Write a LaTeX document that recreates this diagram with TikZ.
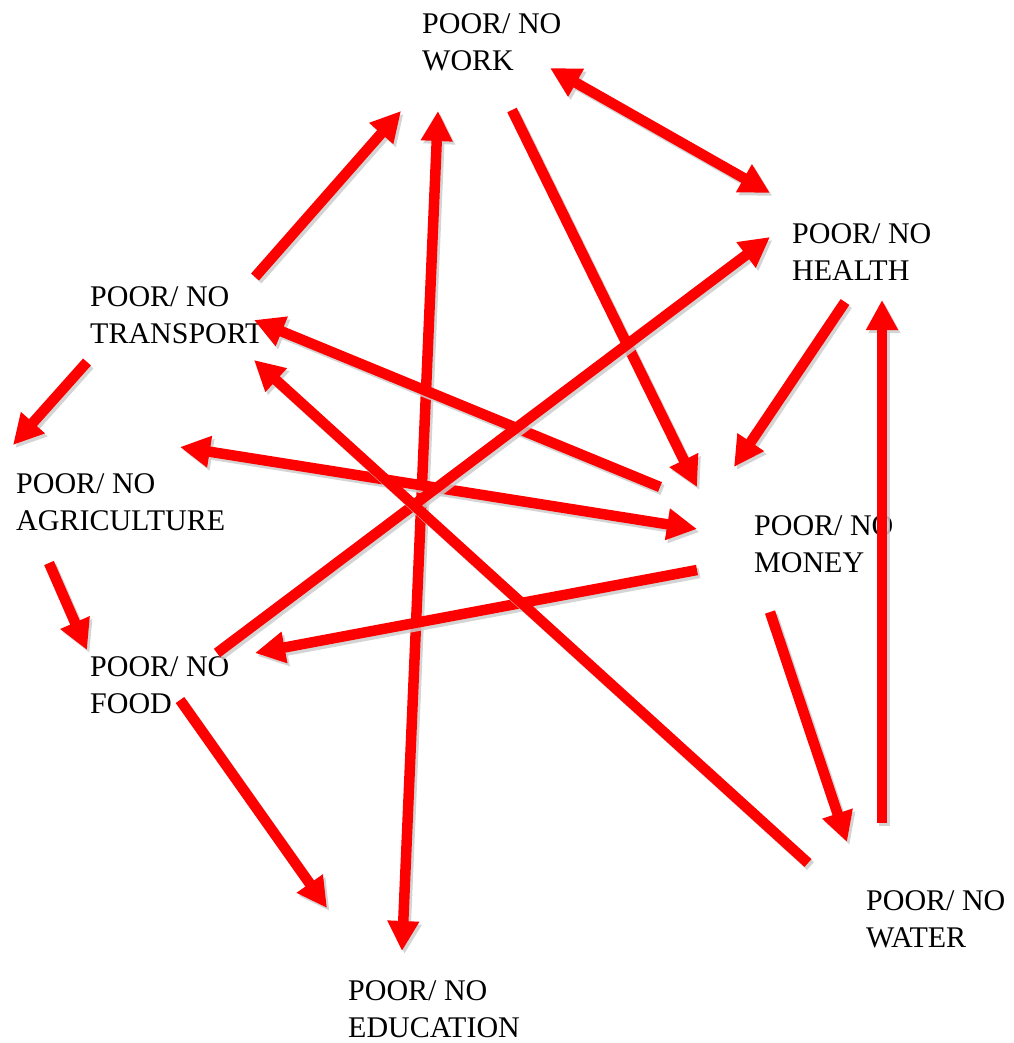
\documentclass[tikz,border=0pt]{standalone}
\usepackage{fontspec}
\setmainfont{Liberation Serif}
\usetikzlibrary{arrows.meta}
\tikzset{
  lbl/.style={anchor=base west, align=left, inner sep=0pt, font=\fontsize{30}{37}\selectfont},
  redline/.style={draw=red, line width=10.5pt},
  shadowline/.style={draw=black!20, line width=10.5pt, opacity=0.85, transform canvas={shift={(2.5pt,-3pt)}}},
  headend/.style={-{Triangle[width=30pt,length=30pt]}},
  headboth/.style={{Triangle[width=30pt,length=30pt]}-{Triangle[width=30pt,length=30pt]}}
}
\newcommand\conn[3]{%
  \draw[shadowline,#1] (#2) -- (#3);
  \draw[redline,#1] (#2) -- (#3);}
\begin{document}
\begin{tikzpicture}[x=1pt,y=-1pt]
\useasboundingbox (0,0) rectangle (1013,1043);
% labels (anchor at the baseline of the second line)
\node[lbl] (work) at (422,71) {POOR/ NO\\WORK};
\node[lbl] (health) at (792,280) {POOR/ NO\\HEALTH};
\node[lbl] (transport) at (90,343) {POOR/ NO\\TRANSPORT};
\node[lbl] (agri) at (16,530) {POOR/ NO\\AGRICULTURE};
\node[lbl] (money) at (754,572) {POOR/ NO\\MONEY};
\node[lbl] (food) at (90,713) {POOR/ NO\\FOOD};
\node[lbl] (edu) at (348,1037) {POOR/ NO\\EDUCATION};
\node[lbl] (water) at (866,947) {POOR/ NO\\WATER};
% connector end points
\coordinate (a1) at (255,277);  \coordinate (b1) at (401,111);
\coordinate (a2) at (438,111);  \coordinate (b2) at (402,951);
\coordinate (a3) at (512,110);  \coordinate (b3) at (697,487);
\coordinate (a4) at (550,68);   \coordinate (b4) at (770,193);
\coordinate (a5) at (845,302);  \coordinate (b5) at (734,467);
\coordinate (a6) at (882,823);  \coordinate (b6) at (882,300);
\coordinate (a7) at (660,487);  \coordinate (b7) at (254,320);
\coordinate (a8) at (180,447);  \coordinate (b8) at (697,529);
\coordinate (a9) at (697,570);  \coordinate (b9) at (255,653);
\coordinate (a10) at (217,653); \coordinate (b10) at (770,237);
\coordinate (a11) at (808,863); \coordinate (b11) at (254,360);
\coordinate (a12) at (87,362);  \coordinate (b12) at (13,445);
\coordinate (a13) at (49,563);  \coordinate (b13) at (87,650);
\coordinate (a14) at (180,700); \coordinate (b14) at (327,908);
\coordinate (a15) at (770,612); \coordinate (b15) at (847,842);
% connectors
\conn{headend}{a1}{b1}
\conn{headboth}{a2}{b2}
\conn{headend}{a3}{b3}
\conn{headboth}{a4}{b4}
\conn{headend}{a5}{b5}
\conn{headend}{a6}{b6}
\conn{headend}{a7}{b7}
\conn{headboth}{a8}{b8}
\conn{headend}{a9}{b9}
\conn{headend}{a10}{b10}
\conn{headend}{a11}{b11}
\conn{headend}{a12}{b12}
\conn{headend}{a13}{b13}
\conn{headend}{a14}{b14}
\conn{headend}{a15}{b15}
\end{tikzpicture}
\end{document}
